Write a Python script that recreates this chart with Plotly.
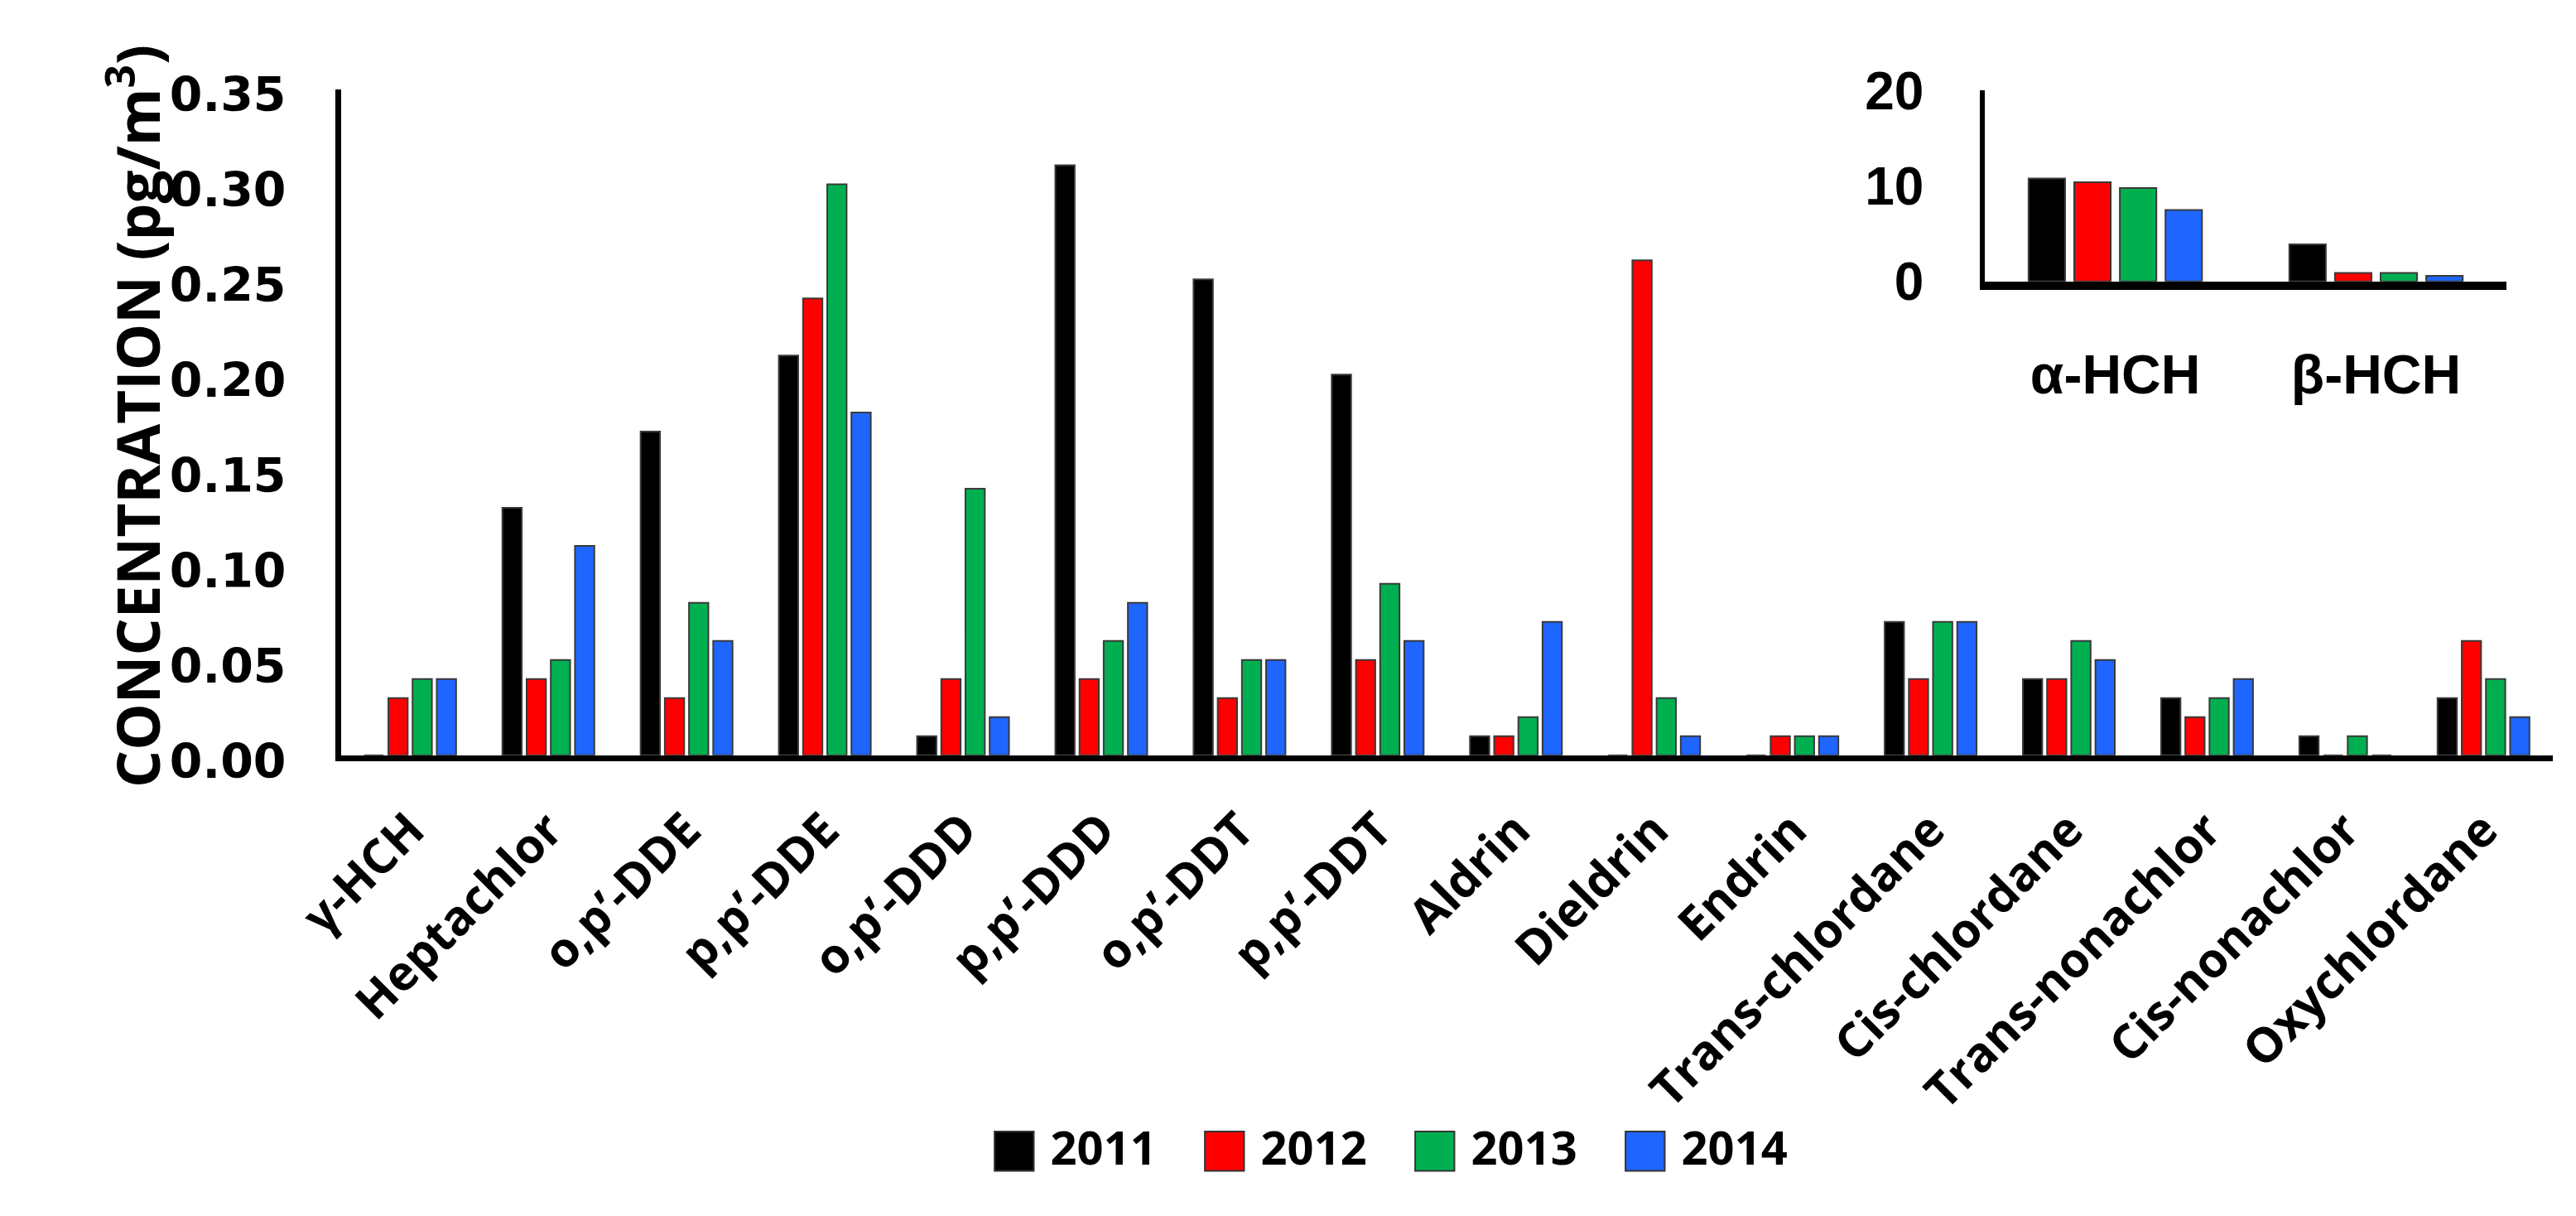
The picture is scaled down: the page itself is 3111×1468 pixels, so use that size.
import plotly.graph_objects as go

categories = ["γ-HCH", "Heptachlor", "o,p’-DDE", "p,p’-DDE", "o,p’-DDD", "p,p’-DDD",
              "o,p’-DDT", "p,p’-DDT", "Aldrin", "Dieldrin", "Endrin", "Trans-chlordane",
              "Cis-chlordane", "Trans-nonachlor", "Cis-nonachlor", "Oxychlordane"]
years = ["2011", "2012", "2013", "2014"]
v2011 = [0, 0.13, 0.17, 0.21, 0.01, 0.31, 0.25, 0.20, 0.01, 0, 0, 0.07, 0.04, 0.03, 0.01, 0.03]
v2012 = [0.03, 0.04, 0.03, 0.24, 0.04, 0.04, 0.03, 0.05, 0.01, 0.26, 0.01, 0.04, 0.04, 0.02, 0, 0.06]
v2013 = [0.04, 0.05, 0.08, 0.30, 0.14, 0.06, 0.05, 0.09, 0.02, 0.03, 0.01, 0.07, 0.06, 0.03, 0.01, 0.04]
v2014 = [0.04, 0.11, 0.06, 0.18, 0.02, 0.08, 0.05, 0.06, 0.07, 0.01, 0.01, 0.07, 0.05, 0.04, 0, 0.02]

inset_categories = ["α-HCH", "β-HCH"]
i2011 = [10.8, 3.9]
i2012 = [10.4, 0.9]
i2013 = [9.8, 0.9]
i2014 = [7.5, 0.6]

y_ticks = [0, 0.05, 0.10, 0.15, 0.20, 0.25, 0.30, 0.35]
inset_ticks = [0, 10, 20]

colors = ["#000000", "#FF0000", "#00B050", "#1E66FF"]
main_vals = [v2011, v2012, v2013, v2014]
inset_vals = [i2011, i2012, i2013, i2014]

W, H = 3111, 1468
fig = go.Figure()

for yr, vals, col in zip(years, main_vals, colors):
    fig.add_trace(go.Bar(x=categories, y=vals, name=yr,
                         marker=dict(color=col, line=dict(color="#3a3a3a", width=2)),
                         showlegend=False, xaxis="x", yaxis="y"))
for yr, vals, col in zip(years, inset_vals, colors):
    fig.add_trace(go.Bar(x=inset_categories, y=vals, name=yr,
                         marker=dict(color=col, line=dict(color="#3a3a3a", width=2)),
                         showlegend=False, xaxis="x2", yaxis="y2"))
# legend entries: large coloured square drawn as a glyph in the legend label
for yr, col in zip(years, colors):
    label = (f'<span style="font-family:DejaVu Sans;font-size:62px;fill:{col};'
             f'stroke:#333333;stroke-width:2px">■</span> {yr}')
    fig.add_trace(go.Scatter(x=[None], y=[None], mode="markers", name=label,
                             marker=dict(symbol="square", size=2, color="rgba(0,0,0,0)",
                                         line=dict(width=0)),
                             xaxis="x", yaxis="y"))

xlab_font = dict(family="Open Sans", size=58, color="black", weight=700)
inset_font = dict(family="Liberation Sans", size=66, color="black", weight=700)

fig.update_layout(
    width=W, height=H,
    margin=dict(l=0, r=0, t=0, b=0),
    paper_bgcolor="white", plot_bgcolor="rgba(0,0,0,0)",
    barmode="group", bargap=0.3, bargroupgap=0.2,
    xaxis=dict(domain=[347 / W, 3074 / W], anchor="y", showgrid=False, zeroline=False,
               showline=True, linecolor="black", linewidth=7, ticks="",
               tickangle=-45, tickfont=xlab_font, ticklabelstandoff=26),
    yaxis=dict(domain=[(H - 915) / H, (H - 67) / H], anchor="x", range=[0, 0.35],
               tickvals=y_ticks, ticktext=[f"{v:.2f}" for v in y_ticks],
               showgrid=False, zeroline=False, showline=True, linecolor="black", linewidth=7,
               ticks="", tickfont=dict(family="DejaVu Sans", size=57, color="black", weight=700),
               ticklabelstandoff=48, ticklabelshift=7),
    xaxis2=dict(domain=[2374 / W, 3017 / W], anchor="y2", showgrid=False, zeroline=False,
                showline=True, linecolor="black", linewidth=10, ticks="",
                tickfont=inset_font, ticklabelstandoff=46),
    yaxis2=dict(domain=[(H - 312) / H, (H - 69) / H], anchor="x2", range=[0, 20],
                tickvals=inset_ticks, showgrid=False, zeroline=False, showline=True,
                linecolor="black", linewidth=6, ticks="",
                tickfont=dict(family="Liberation Sans", size=64, color="black", weight=700),
                ticklabelstandoff=55),
    legend=dict(orientation="h", x=0.5223, xanchor="center", y=(H - 1413) / H, yanchor="middle",
                font=dict(family="Open Sans", size=56, color="black", weight=700),
                itemwidth=30, entrywidth=209, entrywidthmode="pixels",
                bgcolor="rgba(0,0,0,0)"),
    annotations=[dict(text="<b>CONCENTRATION (pg/m<sup>3</sup>)</b>", textangle=-90,
                      xref="paper", yref="paper", x=92 / W, y=(H - 484) / H,
                      xanchor="center", yanchor="middle", showarrow=False,
                      font=dict(family="Open Sans", size=71, color="black"))],
)

fig.write_html("out.html")
